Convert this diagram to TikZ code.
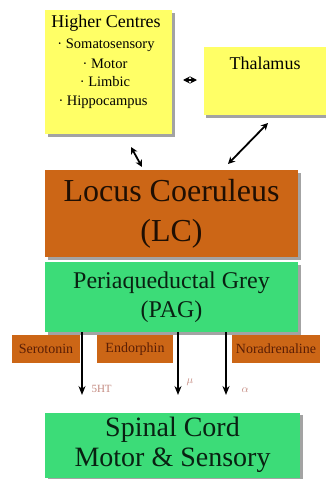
\documentclass[tikz,border=0pt]{standalone}
\usepackage{fontspec}
\setmainfont{Liberation Serif}
\usetikzlibrary{arrows.meta,shadows}
\definecolor{boxyellow}{HTML}{FFFF66}
\definecolor{lcbrown}{HTML}{CC6616}
\definecolor{pagreen}{HTML}{3CDC78}
\definecolor{txtbrown}{HTML}{5A1E05}
\definecolor{labred}{HTML}{C48A80}
\tikzset{
  panel/.style={rectangle, inner sep=0pt, draw=none,
    drop shadow={shadow xshift=2.5pt, shadow yshift=-2.5pt, fill=black!45, opacity=0.8}},
  ntbox/.style={rectangle, inner sep=0pt, fill=lcbrown, minimum height=28pt,
    font=\fontsize{14}{15}\selectfont, text=txtbrown},
  link/.style={line width=1.8pt, {Stealth[length=7pt,width=7pt]}-{Stealth[length=7pt,width=7pt]}},
  down/.style={line width=2pt, -{Stealth[length=9pt,width=7pt]}},
  rec/.style={text=labred, font=\fontsize{11}{12}\selectfont, anchor=west},
  hcitem/.style={font=\fontsize{14.5}{16}\selectfont}
}
\begin{document}
\begin{tikzpicture}[x=1pt,y=-1pt]
\useasboundingbox[fill=white] (0,0) rectangle (326,479);

% upper boxes
\node[panel, fill=boxyellow, minimum width=127pt, minimum height=124pt] (hc) at (108.5,72) {};
\node[panel, fill=boxyellow, minimum width=123pt, minimum height=68pt] (th) at (265,81) {};
\node[font=\fontsize{18}{20}\selectfont] (thtxt) at (265,63) {Thalamus};
\node[font=\fontsize{18}{20}\selectfont] (hctxt) at (106,23) {Higher Centres};
\node[hcitem] (hc1) at (106,45) {\textperiodcentered\ Somatosensory};
\node[hcitem] (hc2) at (105,64) {\textperiodcentered\ Motor};
\node[hcitem] (hc3) at (105,82) {\textperiodcentered\ Limbic};
\node[hcitem] (hc4) at (103,102) {\textperiodcentered\ Hippocampus};

% brain stem and spinal cord
\node[panel, fill=lcbrown, minimum width=253pt, minimum height=87pt, align=center,
  font=\fontsize{32}{40}\selectfont, text=black!85!lcbrown] (lc) at (171.5,213.5)
  {Locus Coeruleus\\(LC)};
\node[panel, fill=pagreen, minimum width=253pt, minimum height=70pt, align=center,
  font=\fontsize{24}{29}\selectfont, text=black!85!pagreen] (pag) at (171.5,297)
  {Periaqueductal Grey\\(PAG)};
\node[panel, fill=pagreen, minimum width=255pt, minimum height=65pt, align=center,
  font=\fontsize{28}{30}\selectfont, text=black!85!pagreen] (sc) at (172.5,445)
  {Spinal Cord\\Motor \& Sensory};

% transmitter tags
\node[ntbox, minimum width=68pt] (ser) at (46,349) {Serotonin};
\node[ntbox, minimum width=76pt] (end) at (135,349) {Endorphin};
\node[ntbox, minimum width=88pt] (nor) at (276,349) {Noradrenaline};

% reciprocal links
\coordinate (hcA) at (183,80);
\coordinate (thA) at (197,80);
\coordinate (hcB) at (131,147);
\coordinate (lcB) at (142,167);
\coordinate (thC) at (268,123);
\coordinate (lcC) at (228,164);
\draw[link] (hcA) -- (thA);
\draw[link] (hcB) -- (lcB);
\draw[link] (thC) -- (lcC);

% descending pathways
\coordinate (d1) at (82,395);
\coordinate (d2) at (178,395);
\coordinate (d3) at (226,395);
\draw[down] (pag.south -| d1) -- (d1);
\draw[down] (pag.south -| d2) -- (d2);
\draw[down] (pag.south -| d3) -- (d3);
\node[rec] (r1) at (88,389) {5HT};
\node[rec] (r2) at (183,382) {$\mu$};
\node[rec] (r3) at (238,390) {$\alpha$};
\end{tikzpicture}
\end{document}
